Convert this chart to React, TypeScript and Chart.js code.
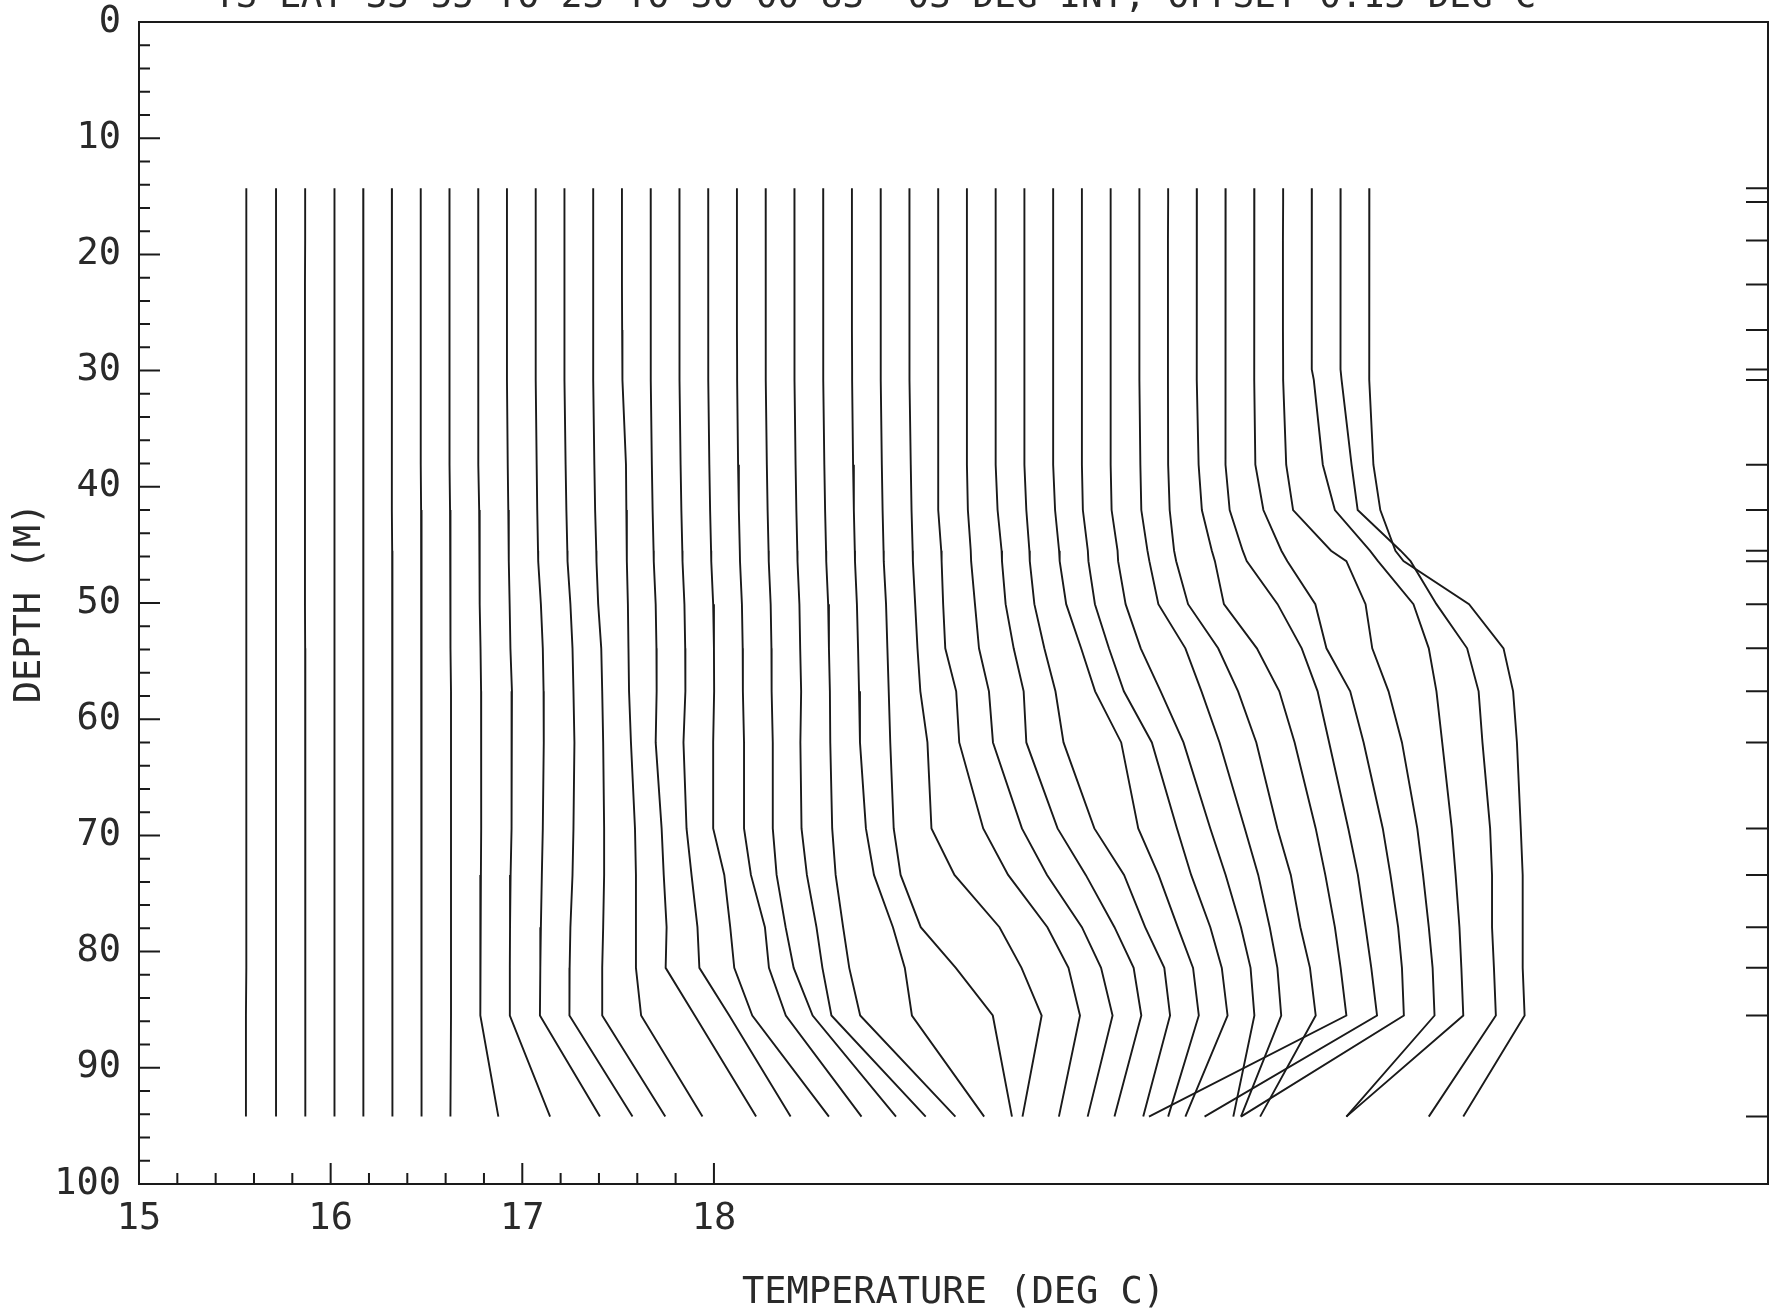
import React, { useEffect, useRef } from "react";
import { Chart, registerables } from "chart.js";

Chart.register(...registerables);

// ---- data ----
const TITLE = "TS LAT 33 55 TO 23 TO 30 00 83  03 DEG INT, OFFSET 0.15 DEG C";
const X_TITLE = "TEMPERATURE (DEG C)";
const Y_TITLE = "DEPTH (M)";
const OFFSET = 0.15; // deg C between successive profiles

// sensor depths (m)
const DEPTHS = [14.3, 15.5, 18.8, 22.6, 26.5, 29.9, 30.8, 38.1, 42.0, 45.5, 46.4, 50.1, 53.9, 57.6, 62.0, 69.4, 73.4, 77.9, 81.4, 85.5, 94.2];

// temperature profiles (deg C, before offset) at DEPTHS
const P00 = [15.56, 15.56, 15.56, 15.56, 15.56, 15.56, 15.56, 15.56, 15.56, 15.56, 15.56, 15.56, 15.56, 15.56, 15.56, 15.56, 15.56, 15.56, 15.56, 15.558, 15.558];
const P01 = [15.565, 15.565, 15.565, 15.565, 15.565, 15.565, 15.565, 15.565, 15.565, 15.565, 15.565, 15.565, 15.565, 15.565, 15.565, 15.565, 15.565, 15.565, 15.565, 15.565, 15.565];
const P02 = [15.567, 15.567, 15.567, 15.566, 15.566, 15.566, 15.566, 15.566, 15.566, 15.566, 15.566, 15.566, 15.567, 15.567, 15.568, 15.568, 15.568, 15.568, 15.568, 15.568, 15.568];
const P03 = [15.57, 15.57, 15.57, 15.57, 15.569, 15.569, 15.569, 15.569, 15.569, 15.57, 15.57, 15.57, 15.57, 15.571, 15.571, 15.571, 15.571, 15.571, 15.571, 15.57, 15.57];
const P04 = [15.57, 15.57, 15.57, 15.57, 15.57, 15.57, 15.57, 15.57, 15.57, 15.57, 15.57, 15.571, 15.572, 15.572, 15.572, 15.572, 15.572, 15.571, 15.571, 15.571, 15.571];
const P05 = [15.57, 15.57, 15.569, 15.569, 15.569, 15.569, 15.569, 15.57, 15.57, 15.571, 15.571, 15.572, 15.573, 15.573, 15.573, 15.573, 15.573, 15.572, 15.572, 15.572, 15.572];
const P06 = [15.57, 15.57, 15.57, 15.57, 15.57, 15.57, 15.57, 15.571, 15.572, 15.573, 15.573, 15.574, 15.575, 15.576, 15.576, 15.576, 15.575, 15.574, 15.574, 15.573, 15.573];
const P07 = [15.57, 15.57, 15.57, 15.57, 15.57, 15.57, 15.57, 15.572, 15.573, 15.574, 15.574, 15.576, 15.577, 15.578, 15.578, 15.578, 15.578, 15.578, 15.578, 15.578, 15.575];
const P08 = [15.57, 15.57, 15.57, 15.57, 15.57, 15.57, 15.57, 15.573, 15.575, 15.577, 15.577, 15.579, 15.582, 15.585, 15.586, 15.585, 15.584, 15.582, 15.581, 15.58, 15.675];
const P09 = [15.57, 15.57, 15.57, 15.57, 15.57, 15.57, 15.57, 15.574, 15.577, 15.579, 15.58, 15.584, 15.588, 15.596, 15.596, 15.592, 15.589, 15.586, 15.585, 15.585, 15.795];
const P10 = [15.57, 15.57, 15.57, 15.57, 15.57, 15.57, 15.57, 15.575, 15.578, 15.582, 15.583, 15.597, 15.607, 15.611, 15.612, 15.607, 15.602, 15.597, 15.594, 15.592, 15.905];
const P11 = [15.57, 15.57, 15.57, 15.57, 15.57, 15.57, 15.57, 15.576, 15.58, 15.585, 15.586, 15.601, 15.612, 15.617, 15.622, 15.617, 15.612, 15.601, 15.597, 15.596, 15.925];
const P12 = [15.57, 15.57, 15.57, 15.57, 15.57, 15.57, 15.57, 15.576, 15.58, 15.586, 15.587, 15.596, 15.612, 15.617, 15.622, 15.627, 15.627, 15.622, 15.617, 15.617, 15.946];
const P13 = [15.57, 15.57, 15.57, 15.57, 15.571, 15.572, 15.573, 15.591, 15.593, 15.595, 15.596, 15.601, 15.604, 15.607, 15.617, 15.638, 15.643, 15.643, 15.643, 15.67, 15.99];
const P14 = [15.57, 15.57, 15.57, 15.57, 15.57, 15.571, 15.571, 15.576, 15.58, 15.585, 15.586, 15.596, 15.6, 15.601, 15.596, 15.627, 15.638, 15.653, 15.648, 15.80, 16.12];
const P15 = [15.57, 15.57, 15.57, 15.57, 15.57, 15.571, 15.571, 15.576, 15.58, 15.585, 15.586, 15.596, 15.6, 15.601, 15.591, 15.607, 15.633, 15.664, 15.674, 15.83, 16.15];
const P16 = [15.57, 15.57, 15.57, 15.57, 15.57, 15.571, 15.571, 15.576, 15.58, 15.585, 15.586, 15.596, 15.6, 15.601, 15.596, 15.596, 15.654, 15.685, 15.706, 15.80, 16.20];
const P17 = [15.57, 15.57, 15.57, 15.57, 15.57, 15.571, 15.571, 15.576, 15.58, 15.585, 15.586, 15.596, 15.6, 15.601, 15.607, 15.607, 15.643, 15.716, 15.737, 15.825, 16.22];
const P18 = [15.57, 15.57, 15.57, 15.57, 15.57, 15.571, 15.571, 15.576, 15.58, 15.585, 15.586, 15.596, 15.6, 15.601, 15.607, 15.607, 15.627, 15.674, 15.716, 15.815, 16.25];
const P19 = [15.57, 15.57, 15.57, 15.57, 15.57, 15.571, 15.571, 15.576, 15.58, 15.585, 15.586, 15.596, 15.6, 15.605, 15.601, 15.607, 15.635, 15.685, 15.716, 15.763, 16.255];
const P20 = [15.57, 15.57, 15.57, 15.57, 15.57, 15.571, 15.571, 15.576, 15.58, 15.585, 15.586, 15.596, 15.6, 15.605, 15.607, 15.617, 15.635, 15.674, 15.706, 15.763, 16.26];
const P21 = [15.57, 15.57, 15.57, 15.57, 15.57, 15.571, 15.571, 15.576, 15.58, 15.585, 15.586, 15.596, 15.602, 15.607, 15.612, 15.643, 15.685, 15.784, 15.846, 15.883, 16.26];
const P22 = [15.57, 15.57, 15.57, 15.57, 15.57, 15.571, 15.571, 15.576, 15.58, 15.585, 15.586, 15.598, 15.605, 15.612, 15.62, 15.638, 15.674, 15.779, 15.962, 16.155, 16.255];
const P23 = [15.57, 15.57, 15.57, 15.57, 15.57, 15.571, 15.571, 15.577, 15.581, 15.587, 15.588, 15.6, 15.612, 15.627, 15.664, 15.685, 15.805, 16.04, 16.155, 16.26, 16.16];
const P24 = [15.57, 15.57, 15.57, 15.57, 15.57, 15.57, 15.57, 15.57, 15.572, 15.586, 15.588, 15.596, 15.607, 15.664, 15.68, 15.805, 15.935, 16.14, 16.25, 16.31, 16.20];
const P25 = [15.57, 15.57, 15.57, 15.57, 15.57, 15.57, 15.57, 15.57, 15.575, 15.59, 15.592, 15.612, 15.633, 15.685, 15.706, 15.857, 15.988, 16.17, 16.27, 16.33, 16.20];
const P26 = [15.57, 15.57, 15.57, 15.57, 15.57, 15.57, 15.57, 15.57, 15.58, 15.601, 15.603, 15.622, 15.664, 15.716, 15.73, 15.893, 16.04, 16.19, 16.29, 16.33, 16.19];
const P27 = [15.57, 15.57, 15.57, 15.57, 15.57, 15.57, 15.57, 15.57, 15.58, 15.596, 15.598, 15.622, 15.674, 15.732, 15.774, 15.935, 16.09, 16.20, 16.30, 16.33, 16.19];
const P28 = [15.57, 15.57, 15.57, 15.57, 15.57, 15.57, 15.57, 15.57, 15.58, 15.601, 15.604, 15.638, 15.716, 15.789, 15.925, 16.014, 16.12, 16.22, 16.30, 16.33, 16.17];
const P29 = [15.57, 15.57, 15.57, 15.57, 15.57, 15.57, 15.57, 15.57, 15.575, 15.601, 15.604, 15.638, 15.711, 15.789, 15.935, 16.066, 16.14, 16.24, 16.30, 16.33, 16.11];
const P30 = [15.57, 15.57, 15.57, 15.57, 15.57, 15.57, 15.57, 15.57, 15.575, 15.606, 15.609, 15.648, 15.727, 15.831, 15.95, 16.09, 16.17, 16.25, 16.30, 16.32, 16.21];
const P31 = [15.57, 15.57, 15.57, 15.57, 15.57, 15.57, 15.57, 15.575, 15.58, 15.612, 15.622, 15.669, 15.81, 15.894, 15.988, 16.12, 16.19, 16.25, 16.29, 16.31, 16.10];
const P32 = [15.57, 15.57, 15.569, 15.569, 15.569, 15.569, 15.569, 15.57, 15.578, 15.601, 15.612, 15.674, 15.831, 15.935, 16.03, 16.14, 16.21, 16.26, 16.31, 16.34, 16.05];
const P33 = [15.57, 15.57, 15.569, 15.569, 15.569, 15.569, 15.57, 15.579, 15.596, 15.648, 15.664, 15.711, 15.883, 16.00, 16.08, 16.19, 16.24, 16.29, 16.32, 16.35, 15.32];
const P34 = [15.57, 15.57, 15.569, 15.569, 15.569, 15.569, 15.569, 15.57, 15.591, 15.659, 15.68, 15.841, 15.967, 16.05, 16.11, 16.21, 16.26, 16.30, 16.33, 16.36, 15.46];
const P35 = [15.57, 15.57, 15.569, 15.569, 15.569, 15.569, 15.569, 15.575, 15.617, 15.711, 15.742, 15.888, 15.946, 16.07, 16.14, 16.24, 16.28, 16.32, 16.34, 16.35, 15.50];
const P36 = [15.57, 15.57, 15.569, 15.569, 15.569, 15.57, 15.57, 15.586, 15.622, 15.82, 15.90, 16.00, 16.035, 16.12, 16.19, 16.27, 16.30, 16.33, 16.35, 16.36, 15.90];
const P37 = [15.57, 15.57, 15.569, 15.569, 15.569, 15.57, 15.58, 15.627, 15.69, 15.873, 15.915, 16.10, 16.18, 16.22, 16.25, 16.30, 16.32, 16.34, 16.35, 16.36, 15.75];
const P38 = [15.57, 15.57, 15.569, 15.569, 15.569, 15.57, 15.575, 15.627, 15.659, 15.883, 15.935, 16.07, 16.23, 16.29, 16.31, 16.35, 16.36, 16.36, 16.37, 16.38, 16.03];
const P39 = [15.57, 15.57, 15.569, 15.569, 15.569, 15.569, 15.57, 15.591, 15.627, 15.706, 15.748, 16.09, 16.27, 16.32, 16.34, 16.36, 16.37, 16.37, 16.37, 16.38, 16.06];

const PROFILES = [
  P00, P01, P02, P03, P04, P05, P06, P07, P08, P09,
  P10, P11, P12, P13, P14, P15, P16, P17, P18, P19,
  P20, P21, P22, P23, P24, P25, P26, P27, P28, P29,
  P30, P31, P32, P33, P34, P35, P36, P37, P38, P39,
];

// axis labels and tick marks
const X_LABELS = [15, 16, 17, 18];
const X_TICK_MARKS = [15.2, 15.4, 15.6, 15.8, 16, 16.2, 16.4, 16.6, 16.8, 17, 17.2, 17.4, 17.6, 17.8, 18];
const Y_TICK_MARKS = [2, 4, 6, 8, 10, 12, 14, 16, 18, 20, 22, 24, 26, 28, 30, 32, 34, 36, 38, 40, 42, 44, 46, 48, 50, 52, 54, 56, 58, 60, 62, 64, 66, 68, 70, 72, 74, 76, 78, 80, 82, 84, 86, 88, 90, 92, 94, 96, 98];
const X_MIN = 15;
const X_MAX = 23.5;

const INK = "#1a1a1a";
const TEXT_INK = "#2a2a2a";
const FONT_FAMILY = '"DejaVu Sans Mono", "Liberation Mono", monospace';

const frameTicksPlugin = {
  id: "frameTicks",
  afterDatasetsDraw(chart: any) {
    const { ctx, chartArea: a, scales } = chart;
    const xs = scales.x;
    const ys = scales.y;
    ctx.save();
    ctx.strokeStyle = INK;
    ctx.lineWidth = 2;
    ctx.strokeRect(a.left, a.top, a.right - a.left, a.bottom - a.top);
    ctx.beginPath();
    for (const v of X_TICK_MARKS) {
      const px = xs.getPixelForValue(v);
      const len = Number.isInteger(v) ? 21 : 11;
      ctx.moveTo(px, a.bottom);
      ctx.lineTo(px, a.bottom - len);
    }
    for (const v of Y_TICK_MARKS) {
      const py = ys.getPixelForValue(v);
      const len = v % 10 === 0 ? 21 : 11;
      ctx.moveTo(a.left, py);
      ctx.lineTo(a.left + len, py);
    }
    for (const d of DEPTHS) {
      const py = ys.getPixelForValue(d);
      ctx.moveTo(a.right, py);
      ctx.lineTo(a.right - 22, py);
    }
    ctx.stroke();
    ctx.fillStyle = TEXT_INK;
    ctx.font = `36px ${FONT_FAMILY}`;
    ctx.textAlign = "center";
    ctx.textBaseline = "alphabetic";
    ctx.fillText(TITLE, 875, 7);
    ctx.restore();
  },
};

export default function App() {
  const ref = useRef<HTMLCanvasElement | null>(null);

  useEffect(() => {
    if (!ref.current) return;
    const datasets = PROFILES.map((p, i) => ({
      label: `P${i}`,
      data: DEPTHS.map((d, j) => ({ x: p[j] + OFFSET * i, y: d })),
      showLine: true,
      borderColor: INK,
      borderWidth: 1.9,
      pointRadius: 0,
      pointHoverRadius: 0,
      fill: false,
      tension: 0,
    }));

    const chart = new Chart(ref.current, {
      type: "scatter",
      data: { datasets },
      options: {
        responsive: false,
        animation: false,
        devicePixelRatio: 1,
        layout: { padding: { top: 22, right: 11, left: 0, bottom: 0 } },
        plugins: {
          legend: { display: false },
          tooltip: { enabled: false },
          title: { display: false },
        },
        events: [],
        scales: {
          x: {
            type: "linear",
            min: X_MIN,
            max: X_MAX,
            grid: { display: false, drawTicks: false },
            border: { display: false },
            afterBuildTicks: (scale: any) => {
              scale.ticks = X_LABELS.map((v) => ({ value: v }));
            },
            afterFit: (scale: any) => {
              scale.height = 132;
              scale.paddingLeft = 0;
              scale.paddingRight = 0;
            },
            ticks: {
              color: TEXT_INK,
              font: { family: FONT_FAMILY, size: 37 },
              padding: 13,
              maxRotation: 0,
              autoSkip: false,
              callback: (v: any) => String(v),
            },
            title: {
              display: true,
              text: X_TITLE,
              color: TEXT_INK,
              font: { family: FONT_FAMILY, size: 37 },
              padding: { top: 0, bottom: 0 },
            },
          },
          y: {
            type: "linear",
            reverse: true,
            min: 0,
            max: 100,
            grid: { display: false, drawTicks: false },
            border: { display: false },
            afterFit: (scale: any) => {
              scale.width = 139;
              scale.paddingTop = 0;
              scale.paddingBottom = 0;
            },
            ticks: {
              stepSize: 10,
              color: TEXT_INK,
              font: { family: FONT_FAMILY, size: 37 },
              padding: 18,
              autoSkip: false,
            },
            title: {
              display: true,
              text: Y_TITLE,
              color: TEXT_INK,
              font: { family: FONT_FAMILY, size: 37 },
              padding: { top: 8, bottom: 0 },
            },
          },
        },
      },
      plugins: [frameTicksPlugin],
    });
    return () => chart.destroy();
  }, []);

  return (
    <div style={{ position: "absolute", left: 0, top: 0, width: 1779, height: 1316, background: "#fff", overflow: "hidden" }}>
      <canvas ref={ref} width={1779} height={1316} style={{ width: 1779, height: 1316, display: "block" }} />
    </div>
  );
}
